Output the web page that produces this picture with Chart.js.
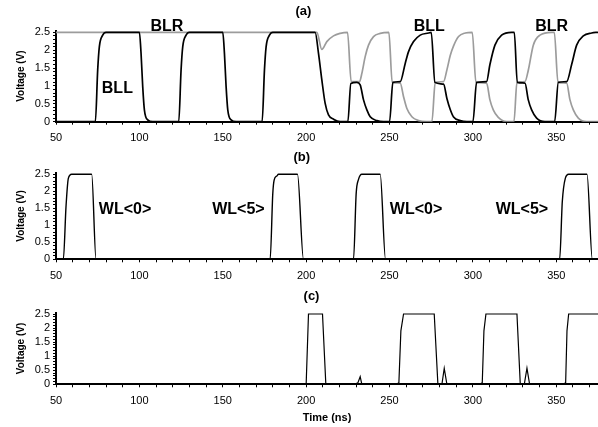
<!DOCTYPE html>
<html>
<head>
<meta charset="utf-8">
<script src="https://cdn.jsdelivr.net/npm/chart.js@4.4.1/dist/chart.umd.min.js"></script>
<style>
  body { margin: 0; background: #fff; }
  canvas { position: absolute; left: 0; }
</style>
</head>
<body>
<canvas id="chartA" width="598" height="145" style="top:0px"></canvas>
<canvas id="chartB" width="598" height="137" style="top:145px"></canvas>
<canvas id="chartC" width="598" height="145" style="top:282px"></canvas>
<script>
var FONT = "'Liberation Sans', Arial, sans-serif";

// (a) bit lines, time in ns / voltage in V
var bllT = [50, 73.6, 75, 76, 78, 80, 100, 101, 102, 103, 105, 108,
  123.6, 125, 126, 128, 130, 150, 151, 152, 153, 155, 158,
  173.6, 175, 176, 178, 180, 205.4, 207.4, 209.4, 211.4, 213.4, 216.4, 220.4,
  225, 226.8, 230.4, 232.4, 234.4, 236.4, 238.4, 242.4, 246.4,
  250, 252, 256.4, 259.4, 261.4, 264.4, 268.4, 273.4, 275,
  277.2, 282.4, 284.4, 286.4, 288.4, 292.4, 296.4,
  300, 302.2, 308.2, 310.2, 313.2, 317.2, 323.2, 324.8,
  326.6, 331.2, 333.2, 335.2, 338.2, 343.2,
  349, 351.2, 356.2, 359.2, 362.2, 366.2, 371.2, 375];
var bllV = [0, 0, 1.45, 2.1, 2.42, 2.5, 2.5, 1.91, 0.98, 0.33, 0.05, 0,
  0, 1.45, 2.1, 2.42, 2.5, 2.5, 1.91, 0.98, 0.33, 0.05, 0,
  0, 1.45, 2.1, 2.42, 2.5, 2.5, 1.91, 1.17, 0.51, 0.19, 0.07, 0,
  0, 1.07, 1.1, 1.03, 0.61, 0.33, 0.14, 0.03, 0,
  0, 1.1, 1.12, 1.63, 1.96, 2.24, 2.42, 2.48, 2.5,
  1.1, 1.05, 0.65, 0.34, 0.13, 0.03, 0,
  0, 1.1, 1.12, 1.6, 2.14, 2.42, 2.5, 2.5,
  1.1, 1.08, 0.61, 0.33, 0.1, 0,
  0, 1.1, 1.12, 1.6, 2.14, 2.4, 2.48, 2.5];

var blrT = [50, 206.4, 209.4, 212.4, 216.4, 220.4, 224.8,
  227, 232, 233.4, 235.4, 237.4, 240.4, 244.4, 249.6,
  251.6, 256.4, 258.4, 260.4, 263.4, 267.4, 272,
  275.4, 277.4, 282.4, 284.4, 286.4, 288.4, 291.4, 295.4, 299.6,
  301.8, 308.2, 310.2, 312.2, 315.2, 320.2,
  324.6, 326.4, 331.2, 333.2, 336.2, 340.2, 347.2, 348.8,
  351, 356.2, 358.2, 360.2, 363.2, 368.2, 375];
var blrV = [2.5, 2.5, 2.02, 2.24, 2.4, 2.47, 2.5,
  1.12, 1.12, 1.35, 1.82, 2.14, 2.38, 2.47, 2.5,
  1.1, 1.08, 0.7, 0.37, 0.14, 0.03, 0,
  0, 1.1, 1.12, 1.45, 1.85, 2.12, 2.38, 2.48, 2.5,
  1.1, 1.08, 0.61, 0.33, 0.12, 0,
  0, 1.1, 1.12, 1.44, 2.14, 2.42, 2.5, 2.5,
  1.1, 1.08, 0.61, 0.33, 0.1, 0, 0];

// (b) word lines
var wlT = [50, 54.4, 56, 57.4, 59.4, 71.4, 74,
  178.4, 180, 180.8, 182.4, 183.4, 194.8, 198.4,
  228.4, 230, 231.4, 233.4, 244.4, 247.6,
  352, 353.6, 355.4, 357.4, 368.4, 371.6, 375];
var wlV = [0, 0, 1.55, 2.38, 2.5, 2.5, 0,
  0, 1.94, 2.33, 2.45, 2.5, 2.5, 0,
  0, 1.94, 2.35, 2.5, 2.5, 0,
  0, 1.7, 2.38, 2.5, 2.5, 0, 0];

// (c)
var cT = [50, 200, 201.4, 209.8, 211.8, 229, 231, 232.4, 233.4,
  254, 255.6, 256.8, 258.4, 276.8, 279, 281.4, 282.8, 284.4,
  304, 305.6, 306.6, 307.8, 326.4, 328.4, 330.8, 332.4, 334,
  354, 355.6, 356.4, 357.4, 375];
var cV = [0, 0, 2.5, 2.5, 0, 0, 0.05, 0.27, 0,
  0, 0.05, 1.9, 2.5, 2.5, 0, 0, 0.57, 0,
  0, 0.05, 1.9, 2.5, 2.5, 0, 0, 0.57, 0,
  0, 0.05, 1.9, 2.5, 2.5];

// ticks
var xTicks = [50, 60, 70, 80, 90, 100, 110, 120, 130, 140, 150, 160, 170, 180, 190, 200,
  210, 220, 230, 240, 250, 260, 270, 280, 290, 300, 310, 320, 330, 340, 350, 360, 370];
var xLabels = [50, 100, 150, 200, 250, 300, 350];
var yTicks = [0, 0.1, 0.2, 0.3, 0.4, 0.5, 0.6, 0.7, 0.8, 0.9, 1, 1.1, 1.2, 1.3, 1.4, 1.5,
  1.6, 1.7, 1.8, 1.9, 2, 2.1, 2.2, 2.3, 2.4, 2.5];
var yLabels = [0, 0.5, 1, 1.5, 2, 2.5];

// panel titles and curve labels: [text, time, voltage]
var titlesA = [['(a)', 198.4, 3.07]];
var titlesB = [['(b)', 197.4, 2.99]];
var titlesC = [['(c)', 203.2, 3.12]];
var notesA = [['BLR', 116.5, 2.66], ['BLL', 86.8, 0.93], ['BLL', 273.8, 2.66], ['BLR', 347.2, 2.66]];
var notesB = [['WL<0>', 91.4, 1.47], ['WL<5>', 159.4, 1.47], ['WL<0>', 265.9, 1.47], ['WL<5>', 329.4, 1.47]];

function pts(t, v) {
  return t.map(function (x, i) { return { x: x, y: v[i] }; });
}

function textPlugin(titles, notes) {
  return {
    id: 'texts',
    afterDraw: function (chart) {
      var ctx = chart.ctx, xs = chart.scales.x, ys = chart.scales.y;
      ctx.save();
      ctx.fillStyle = '#000';
      ctx.textAlign = 'center';
      ctx.textBaseline = 'middle';
      ctx.font = 'bold 13px ' + FONT;
      titles.forEach(function (n) {
        ctx.fillText(n[0], xs.getPixelForValue(n[1]), ys.getPixelForValue(n[2]));
      });
      ctx.font = 'bold 16px ' + FONT;
      notes.forEach(function (n) {
        ctx.fillText(n[0], xs.getPixelForValue(n[1]), ys.getPixelForValue(n[2]));
      });
      ctx.restore();
    }
  };
}

function makeChart(id, datasets, cfg) {
  var tickGrid = { display: true, drawOnChartArea: false, tickLength: 3, tickColor: '#000', tickWidth: 1 };
  return new Chart(document.getElementById(id), {
    type: 'line',
    data: { datasets: datasets },
    options: {
      responsive: false,
      animation: false,
      events: [],
      layout: { padding: { top: cfg.top, left: 0, right: 0, bottom: 0 } },
      elements: { point: { radius: 0 } },
      plugins: { legend: { display: false }, tooltip: { enabled: false } },
      scales: {
        x: {
          type: 'linear', min: 50, max: 375,
          afterBuildTicks: function (s) { s.ticks = xTicks.map(function (v) { return { value: v }; }); },
          afterFit: function (s) { s.height = cfg.xh; },
          grid: tickGrid,
          border: { color: '#000', width: 2 },
          ticks: {
            autoSkip: false, maxRotation: 0, minRotation: 0, padding: 7, color: '#000',
            font: { family: FONT, size: 11 },
            callback: function (v) { return xLabels.indexOf(v) >= 0 ? String(v) : ''; }
          },
          title: cfg.xTitle ? {
            display: true, text: 'Time (ns)', color: '#000',
            font: { family: FONT, size: 11, weight: 'bold' },
            padding: { top: 0, bottom: 2.4 }
          } : { display: false }
        },
        y: {
          min: 0, max: 2.55,
          afterBuildTicks: function (s) { s.ticks = yTicks.map(function (v) { return { value: v }; }); },
          afterFit: function (s) { s.width = 56; },
          grid: tickGrid,
          border: { color: '#000', width: 2 },
          ticks: {
            autoSkip: false, padding: 3, color: '#000',
            font: { family: FONT, size: 11 },
            callback: function (v) { return yLabels.indexOf(v) >= 0 ? String(v) : ''; }
          },
          title: {
            display: true, text: 'Voltage (V)', color: '#000',
            font: { family: FONT, size: 10, weight: 'bold' },
            padding: { top: 15.5, bottom: 0 }
          }
        }
      }
    },
    plugins: [textPlugin(cfg.titles, cfg.notes)]
  });
}

makeChart('chartA', [
  { label: 'BLL', data: pts(bllT, bllV), borderColor: '#000', borderWidth: 1.7, cubicInterpolationMode: 'monotone' },
  { label: 'BLR', data: pts(blrT, blrV), borderColor: '#9c9c9c', borderWidth: 1.7, cubicInterpolationMode: 'monotone' }
], { top: 30.5, xh: 23.3, titles: titlesA, notes: notesA });

makeChart('chartB', [
  { label: 'WL', data: pts(wlT, wlV), borderColor: '#000', borderWidth: 1.4, cubicInterpolationMode: 'monotone' }
], { top: 27.6, xh: 22.7, titles: titlesB, notes: notesB });

makeChart('chartC', [
  { label: 'C', data: pts(cT, cV), borderColor: '#000', borderWidth: 1.2, tension: 0 }
], { top: 30.6, xh: 42.7, xTitle: true, titles: titlesC, notes: [] });
</script>
</body>
</html>
